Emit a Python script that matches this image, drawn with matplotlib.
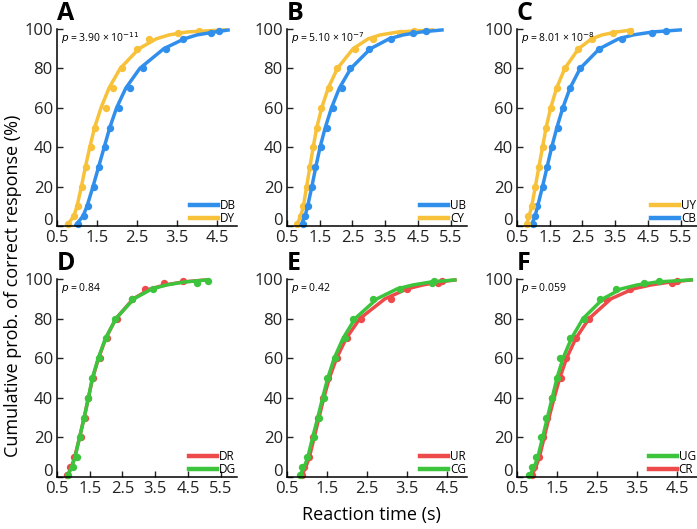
import matplotlib
matplotlib.use("Agg")
import matplotlib.pyplot as plt
import matplotlib.transforms as mtransforms
from matplotlib.lines import Line2D

plt.rcParams['font.family'] = ['Open Sans', 'DejaVu Sans']

# colours
BLUE = '#318FEC'
YELLOW = '#F8C13A'
RED = '#EE4A4A'
GREEN = '#3DC43D'

# percent levels of the measured points
pct = [1, 5, 10, 20, 30, 40, 50, 60, 70, 80, 90, 95, 98, 99]
# percent levels of the fitted curves (last value = curve end)
fit_pct = [0, 5, 10, 20, 30, 40, 50, 60, 70, 80, 90, 95, 97, 98.5, 99.6]

# ---- A ----
a_db_pts = [1.02, 1.18, 1.27, 1.42, 1.55, 1.70, 1.82, 2.05, 2.32, 2.66, 3.22, 3.64, 4.35, 4.56]
a_dy_pts = [0.78, 0.92, 1.02, 1.12, 1.22, 1.34, 1.45, 1.72, 1.89, 2.12, 2.51, 2.80, 3.53, 4.05]
a_db_fit = [0.95, 1.15, 1.25, 1.40, 1.54, 1.68, 1.82, 1.99, 2.22, 2.57, 3.17, 3.68, 4.00, 4.45, 4.82]
a_dy_fit = [0.74, 0.92, 1.00, 1.11, 1.21, 1.32, 1.44, 1.60, 1.80, 2.08, 2.55, 2.98, 3.30, 3.75, 4.75]

# ---- B ----
b_ub_pts = [1.00, 1.05, 1.15, 1.25, 1.36, 1.54, 1.71, 1.90, 2.19, 2.41, 3.02, 3.68, 4.35, 4.76]
b_cy_pts = [0.80, 0.92, 1.00, 1.10, 1.20, 1.29, 1.41, 1.53, 1.79, 2.04, 2.58, 3.14, 3.96, 4.37]
b_ub_fit = [0.92, 1.05, 1.13, 1.26, 1.38, 1.51, 1.67, 1.86, 2.10, 2.45, 3.05, 3.62, 4.05, 4.60, 5.29]
b_cy_fit = [0.78, 0.92, 1.00, 1.10, 1.20, 1.30, 1.41, 1.56, 1.76, 2.04, 2.52, 2.98, 3.35, 3.90, 5.00]

# ---- C ----
c_uy_pts = [0.80, 0.85, 0.95, 1.05, 1.17, 1.29, 1.39, 1.53, 1.71, 1.97, 2.35, 2.79, 3.43, 3.96]
c_cb_pts = [1.00, 1.05, 1.10, 1.28, 1.43, 1.56, 1.74, 1.90, 2.12, 2.41, 3.02, 3.70, 4.62, 5.05]
c_uy_fit = [0.78, 0.87, 0.95, 1.06, 1.17, 1.28, 1.39, 1.53, 1.71, 1.96, 2.38, 2.78, 3.10, 3.55, 4.06]
c_cb_fit = [0.93, 1.05, 1.13, 1.28, 1.42, 1.56, 1.72, 1.90, 2.12, 2.43, 3.02, 3.60, 4.05, 4.65, 5.54]

# ---- D ----
d_dr_pts = [0.80, 0.90, 1.02, 1.22, 1.36, 1.46, 1.61, 1.82, 2.02, 2.33, 2.79, 3.19, 3.76, 4.35]
d_dg_pts = [0.85, 0.98, 1.10, 1.20, 1.34, 1.46, 1.56, 1.77, 2.00, 2.28, 2.79, 3.43, 4.78, 5.11]
d_dr_fit = [0.80, 0.94, 1.04, 1.19, 1.33, 1.46, 1.59, 1.77, 1.99, 2.30, 2.83, 3.35, 3.80, 4.35, 5.10]
d_dg_fit = [0.80, 0.95, 1.05, 1.19, 1.33, 1.46, 1.58, 1.76, 1.98, 2.30, 2.85, 3.40, 3.85, 4.40, 5.13]

# ---- E ----
e_ur_pts = [0.87, 0.93, 1.06, 1.14, 1.28, 1.41, 1.53, 1.76, 2.01, 2.35, 3.09, 3.49, 4.28, 4.37]
e_cg_pts = [0.83, 0.87, 0.99, 1.18, 1.31, 1.43, 1.51, 1.70, 1.95, 2.16, 2.66, 3.33, 4.12, 4.18]
e_ur_fit = [0.85, 0.97, 1.06, 1.18, 1.30, 1.42, 1.56, 1.74, 1.98, 2.32, 2.95, 3.50, 3.90, 4.30, 4.74]
e_cg_fit = [0.80, 0.93, 1.02, 1.14, 1.27, 1.39, 1.52, 1.68, 1.90, 2.20, 2.75, 3.25, 3.65, 4.10, 4.74]

# ---- F ----
f_ug_pts = [0.81, 0.87, 0.98, 1.09, 1.23, 1.37, 1.49, 1.58, 1.83, 2.18, 2.58, 2.97, 3.68, 4.06]
f_cr_pts = [0.87, 0.93, 1.05, 1.14, 1.26, 1.37, 1.59, 1.73, 1.97, 2.31, 2.73, 3.33, 4.37, 4.51]
f_ug_fit = [0.80, 0.93, 1.02, 1.14, 1.26, 1.38, 1.50, 1.65, 1.86, 2.15, 2.65, 3.10, 3.50, 4.00, 4.90]
f_cr_fit = [0.85, 0.97, 1.06, 1.18, 1.30, 1.43, 1.57, 1.74, 1.97, 2.30, 2.85, 3.40, 3.85, 4.35, 4.90]

panels = [
    ('A', r'$p$ = 3.90 × 10$^{-11}$', 5.0, [0.5, 1.5, 2.5, 3.5, 4.5],
     [('DB', BLUE, a_db_pts, a_db_fit), ('DY', YELLOW, a_dy_pts, a_dy_fit)]),
    ('B', r'$p$ = 5.10 × 10$^{-7}$', 6.0, [0.5, 1.5, 2.5, 3.5, 4.5, 5.5],
     [('UB', BLUE, b_ub_pts, b_ub_fit), ('CY', YELLOW, b_cy_pts, b_cy_fit)]),
    ('C', r'$p$ = 8.01 × 10$^{-8}$', 6.0, [0.5, 1.5, 2.5, 3.5, 4.5, 5.5],
     [('UY', YELLOW, c_uy_pts, c_uy_fit), ('CB', BLUE, c_cb_pts, c_cb_fit)]),
    ('D', r'$p$ = 0.84', 6.0, [0.5, 1.5, 2.5, 3.5, 4.5, 5.5],
     [('DR', RED, d_dr_pts, d_dr_fit), ('DG', GREEN, d_dg_pts, d_dg_fit)]),
    ('E', r'$p$ = 0.42', 5.0, [0.5, 1.5, 2.5, 3.5, 4.5],
     [('UR', RED, e_ur_pts, e_ur_fit), ('CG', GREEN, e_cg_pts, e_cg_fit)]),
    ('F', r'$p$ = 0.059', 5.0, [0.5, 1.5, 2.5, 3.5, 4.5],
     [('UG', GREEN, f_ug_pts, f_ug_fit), ('CR', RED, f_cr_pts, f_cr_fit)]),
]

fig = plt.figure(figsize=(6.97, 5.29), dpi=100)

lefts = [57, 287, 517]
W, H = 697.0, 529.0
rows = [(29, 226), (279, 477)]  # top, bottom pixel rows

# the "0" label of the y axis sits a little above the x axis
lift = mtransforms.ScaledTranslation(0, 5 / 72, fig.dpi_scale_trans)

for i, (letter, ptxt, xmax, xticks, series) in enumerate(panels):
    col = i % 3
    top, bot = rows[i // 3]
    ax = fig.add_axes([lefts[col] / W, 1 - bot / H, 180 / W, (bot - top) / H])

    # green drawn last in the red/green panels
    order = series[::-1] if i < 3 else sorted(series, key=lambda s: s[1] == GREEN)
    for name, colr, pts, fit in order:
        ax.plot(fit, fit_pct, color=colr, lw=2.5, solid_capstyle='butt', clip_on=False)
        ax.plot(pts, pct, 'o', color=colr, ms=5.3, mec='none', clip_on=False)

    ax.set_xlim(0.5, xmax)
    ax.set_ylim(0, 100)
    ax.set_xticks(xticks)
    ax.set_xticklabels([f'{t:.1f}' for t in xticks])
    ax.set_yticks([0, 20, 40, 60, 80, 100])
    ax.spines['top'].set_visible(False)
    ax.spines['right'].set_visible(False)
    for s in ('left', 'bottom'):
        ax.spines[s].set_linewidth(1.1)
    ax.tick_params(direction='in', length=4, width=1.0, labelsize=12, colors='#222222')
    ax.tick_params(axis='x', pad=3)
    ax.tick_params(axis='y', pad=3)
    ax.patch.set_alpha(0)
    zero_lbl = ax.get_yticklabels()[0]
    zero_lbl.set_transform(zero_lbl.get_transform() + lift)

    ax.text(0.0, 1.08, letter, transform=ax.transAxes, fontsize=18,
            fontweight='bold', ha='left', va='center', family='Open Sans')
    ax.text(0.02, 0.955, ptxt, transform=ax.transAxes, fontsize=7.5,
            ha='left', va='center')

    handles = [Line2D([], [], color=c, lw=3.2) for _, c, _, _ in series]
    ax.legend(handles, [s[0] for s in series], loc='lower right', frameon=False,
              fontsize=8.5, handlelength=2.4, handletextpad=0.15, labelspacing=-0.05,
              borderaxespad=0.0, borderpad=0.1)

fig.text(0.019, 0.46, 'Cumulative prob. of correct response (%)', rotation=90,
         ha='center', va='center', fontsize=13)
fig.text(0.533, 0.027, 'Reaction time (s)', ha='center', va='center', fontsize=13)

fig.savefig('out.png', dpi=100)
